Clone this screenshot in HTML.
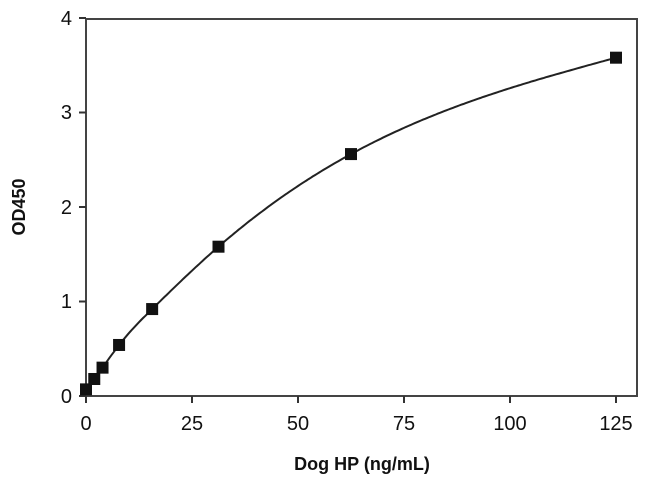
<!DOCTYPE html>
<html><head><meta charset="utf-8"><style>
body{margin:0;background:#fff;}
svg text{font-family:"Liberation Sans",sans-serif;fill:#111;}
</style></head><body>
<svg width="650" height="485" viewBox="0 0 650 485" xmlns="http://www.w3.org/2000/svg">
<rect x="86" y="19" width="551" height="377" fill="none" stroke="#444" stroke-width="2"/>
<g stroke="#333" stroke-width="2">
<line x1="86" y1="396" x2="86" y2="403"/><line x1="192" y1="396" x2="192" y2="403"/><line x1="298" y1="396" x2="298" y2="403"/><line x1="404" y1="396" x2="404" y2="403"/><line x1="510" y1="396" x2="510" y2="403"/><line x1="616" y1="396" x2="616" y2="403"/>
<line x1="79" y1="396" x2="86" y2="396"/><line x1="79" y1="301.5" x2="86" y2="301.5"/><line x1="79" y1="207" x2="86" y2="207"/><line x1="79" y1="112.5" x2="86" y2="112.5"/><line x1="79" y1="18" x2="86" y2="18"/>
</g>
<g font-size="20" text-anchor="middle">
<text x="86" y="430">0</text><text x="192" y="430">25</text><text x="298" y="430">50</text><text x="404" y="430">75</text><text x="510" y="430">100</text><text x="616" y="430">125</text>
</g>
<g font-size="20" text-anchor="end">
<text x="72" y="403">0</text><text x="72" y="308">1</text><text x="72" y="214">2</text><text x="72" y="119">3</text><text x="72" y="25">4</text>
</g>
<text x="362" y="470" font-size="18" font-weight="bold" text-anchor="middle">Dog HP (ng/mL)</text>
<text transform="translate(25,207) rotate(-90)" font-size="18" font-weight="bold" text-anchor="middle">OD450</text>
<path id="c" fill="none" stroke="#222" stroke-width="2"/>
<g id="m" fill="#111"></g>
</svg>
<script>
var d=[[0,0.07],[1.95,0.18],[3.9,0.3],[7.8,0.54],[15.6,0.92],[31.25,1.58],[62.5,2.56],[125,3.58]];
var n=d.length,X=d.map(function(a){return a[0]}),Y=d.map(function(a){return a[1]});
var h=[],al=[],l=[1],mu=[0],z=[0],c=new Array(n).fill(0),b=[],dd=[];
for(var i=0;i<n-1;i++)h[i]=X[i+1]-X[i];
for(i=1;i<n-1;i++)al[i]=3/h[i]*(Y[i+1]-Y[i])-3/h[i-1]*(Y[i]-Y[i-1]);
for(i=1;i<n-1;i++){l[i]=2*(X[i+1]-X[i-1])-h[i-1]*mu[i-1];mu[i]=h[i]/l[i];z[i]=(al[i]-h[i-1]*z[i-1])/l[i];}
for(i=n-2;i>=0;i--){c[i]=(i==0?0:z[i]-mu[i]*c[i+1]);b[i]=(Y[i+1]-Y[i])/h[i]-h[i]*(c[i+1]+2*c[i])/3;dd[i]=(c[i+1]-c[i])/(3*h[i]);}
c[0]=0;for(i=0;i<n-1;i++){b[i]=(Y[i+1]-Y[i])/h[i]-h[i]*(c[i+1]+2*c[i])/3;dd[i]=(c[i+1]-c[i])/(3*h[i]);}
var s="";
for(var x=0;x<=125.001;x+=0.5){
 var k=0;while(k<n-2&&x>X[k+1])k++;
 var t=x-X[k],v=Y[k]+b[k]*t+c[k]*t*t+dd[k]*t*t*t;
 s+=(x==0?"M":" L")+(86+x*4.24).toFixed(1)+","+(396-v*94.5).toFixed(1);
}
document.getElementById("c").setAttribute("d",s);
var g=document.getElementById("m"),hh="";
d.forEach(function(a){var q=[86+a[0]*4.24,396-a[1]*94.5];hh+='<rect x="'+(q[0]-6)+'" y="'+(q[1]-6)+'" width="12" height="12"/>';});
g.innerHTML=hh;
</script>
</body></html>
